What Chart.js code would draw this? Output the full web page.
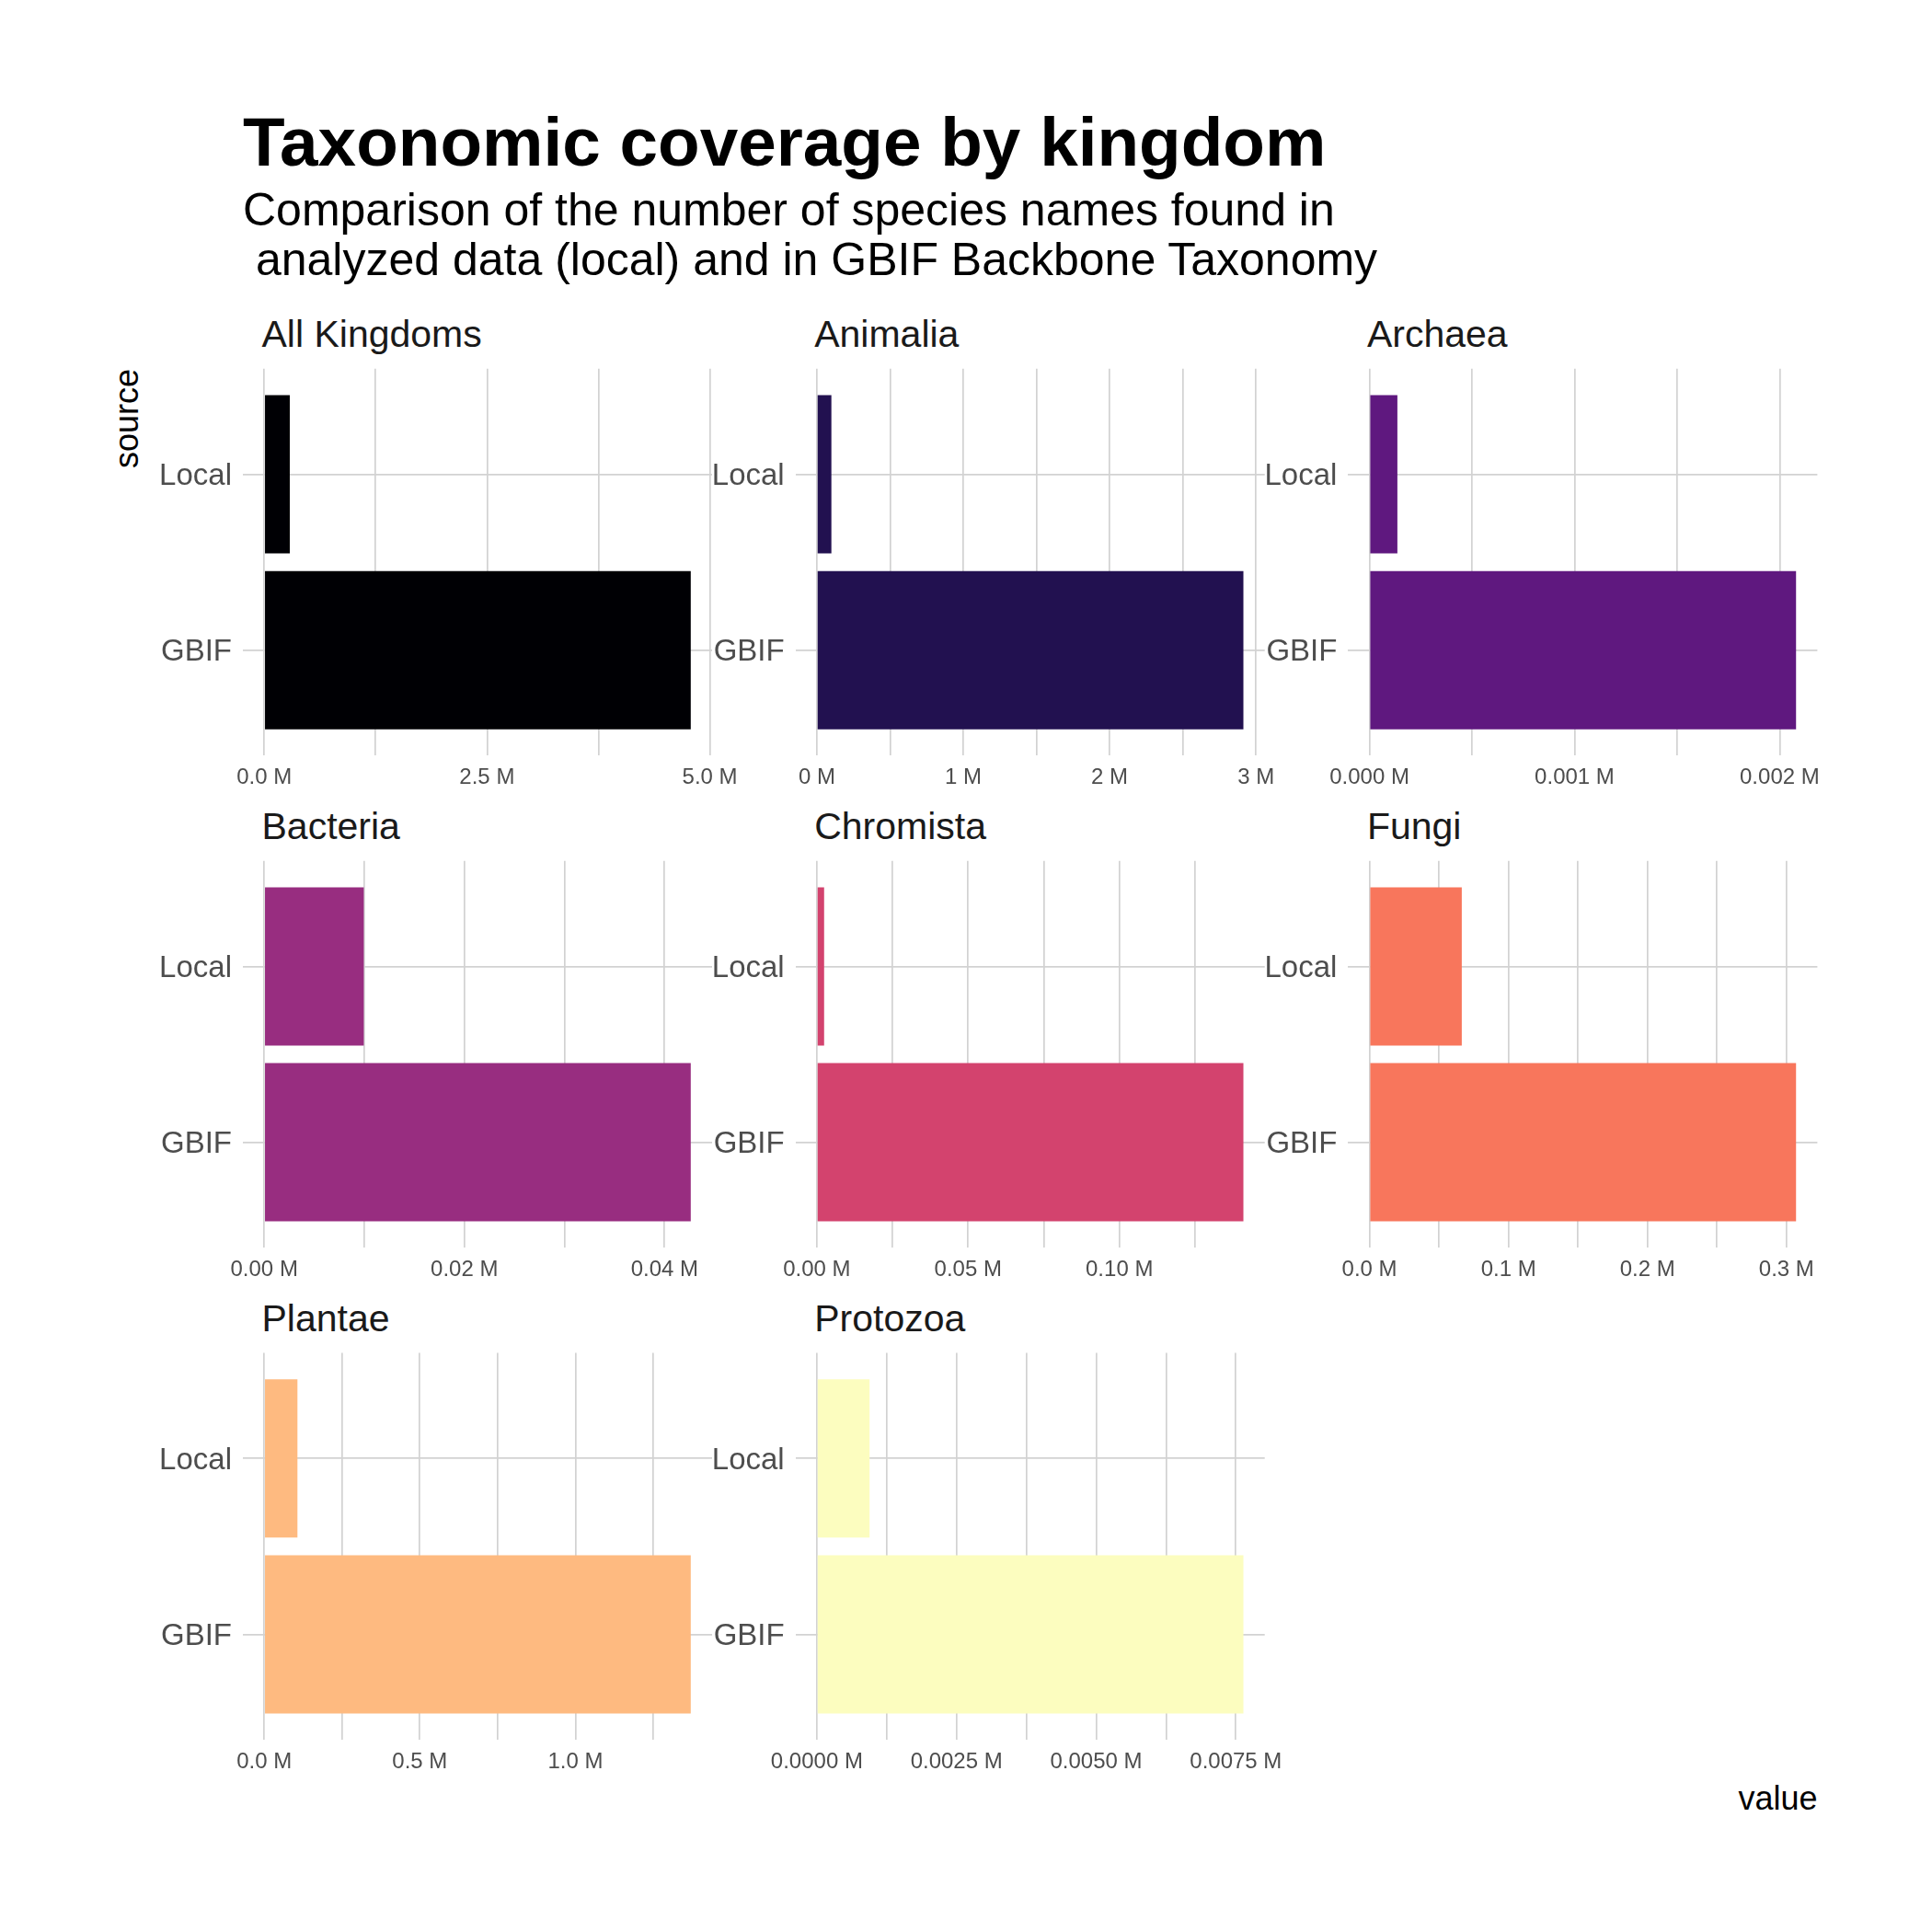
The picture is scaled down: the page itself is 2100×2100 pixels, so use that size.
<!DOCTYPE html>
<html>
<head>
<meta charset="utf-8">
<script src="https://cdn.jsdelivr.net/npm/chart.js@4.4.1/dist/chart.umd.min.js"></script>
<style>
html,body{margin:0;padding:0;background:#fff;}
#root{position:relative;width:2100px;height:2100px;overflow:hidden;background:#fff;font-family:'Liberation Sans',Arial,sans-serif;}
.t{position:absolute;white-space:pre;line-height:1;}
canvas{position:absolute;}
</style>
</head>
<body>
<div id="root"></div>
<script>
// ---- data ----
const kingdoms = ['All Kingdoms','Animalia','Archaea','Bacteria','Chromista','Fungi','Plantae','Protozoa'];
const sources = ['GBIF','Local'];
const gbifCounts  = [4786000, 2914000, 2080, 42620, 141000, 306900, 1370500, 7635];
const localCounts = [287000, 99300, 136, 9950, 2400, 66400, 106800, 944];
const tickSteps   = [2500000, 1000000, 1000, 20000, 50000, 100000, 500000, 2500];
const barColors   = ['#000004','#221150','#5F187F','#982D80','#D3436E','#F8765C','#FEBA80','#FCFDBF'];
const titleText = 'Taxonomic coverage by kingdom';
const subtitleText = 'Comparison of the number of species names found in\n analyzed data (local) and in GBIF Backbone Taxonomy';

// ---- layout ----
const root = document.getElementById('root');
const panelW = 510, panelH = 420.6;
const colLefts = [264, 864.7, 1465.4];
const rowTops = [400.8, 935.7, 1470.6];
const gridColor = '#D2D2D2';
const labelColor = '#4D4D4D';
Chart.defaults.font.family = "'Liberation Sans', Arial, sans-serif";

function addText(txt, css) {
  const d = document.createElement('div');
  d.className = 't';
  d.textContent = txt;
  Object.assign(d.style, css);
  root.appendChild(d);
  return d;
}

addText(titleText, {left:'264px', top:'116.8px', fontSize:'74.7px', fontWeight:'bold', color:'#000'});
addText(subtitleText, {left:'264px', top:'200.6px', fontSize:'50px', lineHeight:'54px', color:'#000'});
addText('source', {left:'120.2px', top:'401px', fontSize:'36px', color:'#000', transformOrigin:'0 0', transform:'rotate(-90deg) translateX(-100%)'});
addText('value', {right:'124.4px', top:'1937px', fontSize:'36px', color:'#000'});

function decimalsFor(step) {
  const m = step / 1e6;
  for (let d = 0; d < 8; d++) {
    const v = m * Math.pow(10, d);
    if (Math.abs(Math.round(v) - v) < 1e-7) return d;
  }
  return 8;
}

kingdoms.forEach((name, k) => {
  const r = Math.floor(k / 3), c = k % 3;
  const panelLeft = colLefts[c], panelTop = rowTops[r];
  const values = [gbifCounts[k], localCounts[k]];
  const maxV = Math.max(...values);
  const step = tickSteps[k];
  const dec = decimalsFor(step);

  // strip label
  addText(name, {left:(panelLeft + 20.5) + 'px', top:(panelTop - 22.8 - 0.8465 * 41) + 'px', fontSize:'41px', color:'#1A1A1A'});

  const yAxisW = 100, xAxisH = 50;
  const canvasLeft = Math.floor(panelLeft) - 110;
  const canvasTop = Math.floor(panelTop) - 20;
  const padL = panelLeft - canvasLeft - yAxisW;
  const padT = panelTop - canvasTop;
  const W = Math.ceil(panelLeft - canvasLeft + panelW) + 60;
  const H = Math.ceil(padT + panelH) + xAxisH;
  const padR = W - (panelLeft - canvasLeft + panelW);
  const padB = H - (padT + panelH) - xAxisH;

  const cv = document.createElement('canvas');
  cv.width = W; cv.height = H;
  cv.style.left = canvasLeft + 'px';
  cv.style.top = canvasTop + 'px';
  cv.style.width = W + 'px';
  cv.style.height = H + 'px';
  root.appendChild(cv);

  new Chart(cv, {
    type: 'bar',
    data: {
      datasets: [{
        data: sources.map((s, i) => ({x: values[i], y: i + 1})),
        backgroundColor: barColors[k],
        borderWidth: 0,
        categoryPercentage: 1,
        barPercentage: 0.9
      }]
    },
    options: {
      indexAxis: 'y',
      responsive: false,
      animation: false,
      devicePixelRatio: 1,
      layout: {padding: {left: padL, top: padT, right: padR, bottom: padB}},
      plugins: {legend: {display: false}, tooltip: {enabled: false}, title: {display: false}},
      scales: {
        x: {
          type: 'linear', position: 'bottom', bounds: 'data', offset: false,
          min: -0.05 * maxV, max: 1.05 * maxV,
          border: {display: false},
          grid: {color: gridColor, lineWidth: 1.7, drawTicks: false, offset: false},
          ticks: {
            autoSkip: false, maxRotation: 0, minRotation: 0, padding: 9.7,
            color: labelColor, font: {size: 24},
            callback: (v) => {
              const q = v / step;
              if (Math.abs(q - Math.round(q)) > 1e-6) return '';
              return (v / 1e6).toFixed(dec) + ' M';
            }
          },
          afterBuildTicks: (scale) => {
            const half = step / 2;
            const ticks = [];
            for (let j = Math.ceil(scale.min / half); j * half <= scale.max + 1e-9; j++) {
              ticks.push({value: j * half});
            }
            scale.ticks = ticks;
          },
          afterFit: (s) => { s.height = xAxisH; s.paddingLeft = 0; s.paddingRight = 0; s.paddingTop = 0; s.paddingBottom = 0; }
        },
        y: {
          type: 'linear', position: 'left', offset: false, bounds: 'data',
          min: 0.4, max: sources.length + 0.6,
          border: {display: false},
          grid: {color: gridColor, lineWidth: 1.7, drawTicks: false, offset: false},
          ticks: {
            autoSkip: false, padding: 12, labelOffset: 2.7, color: labelColor, font: {size: 33},
            callback: (v) => sources[Math.round(v) - 1] || ''
          },
          afterBuildTicks: (scale) => { scale.ticks = sources.map((s, i) => ({value: i + 1})); },
          afterFit: (s) => { s.width = yAxisW; s.paddingLeft = 0; s.paddingRight = 0; s.paddingTop = 0; s.paddingBottom = 0; }
        }
      }
    }
  });
});
</script>
</body>
</html>
